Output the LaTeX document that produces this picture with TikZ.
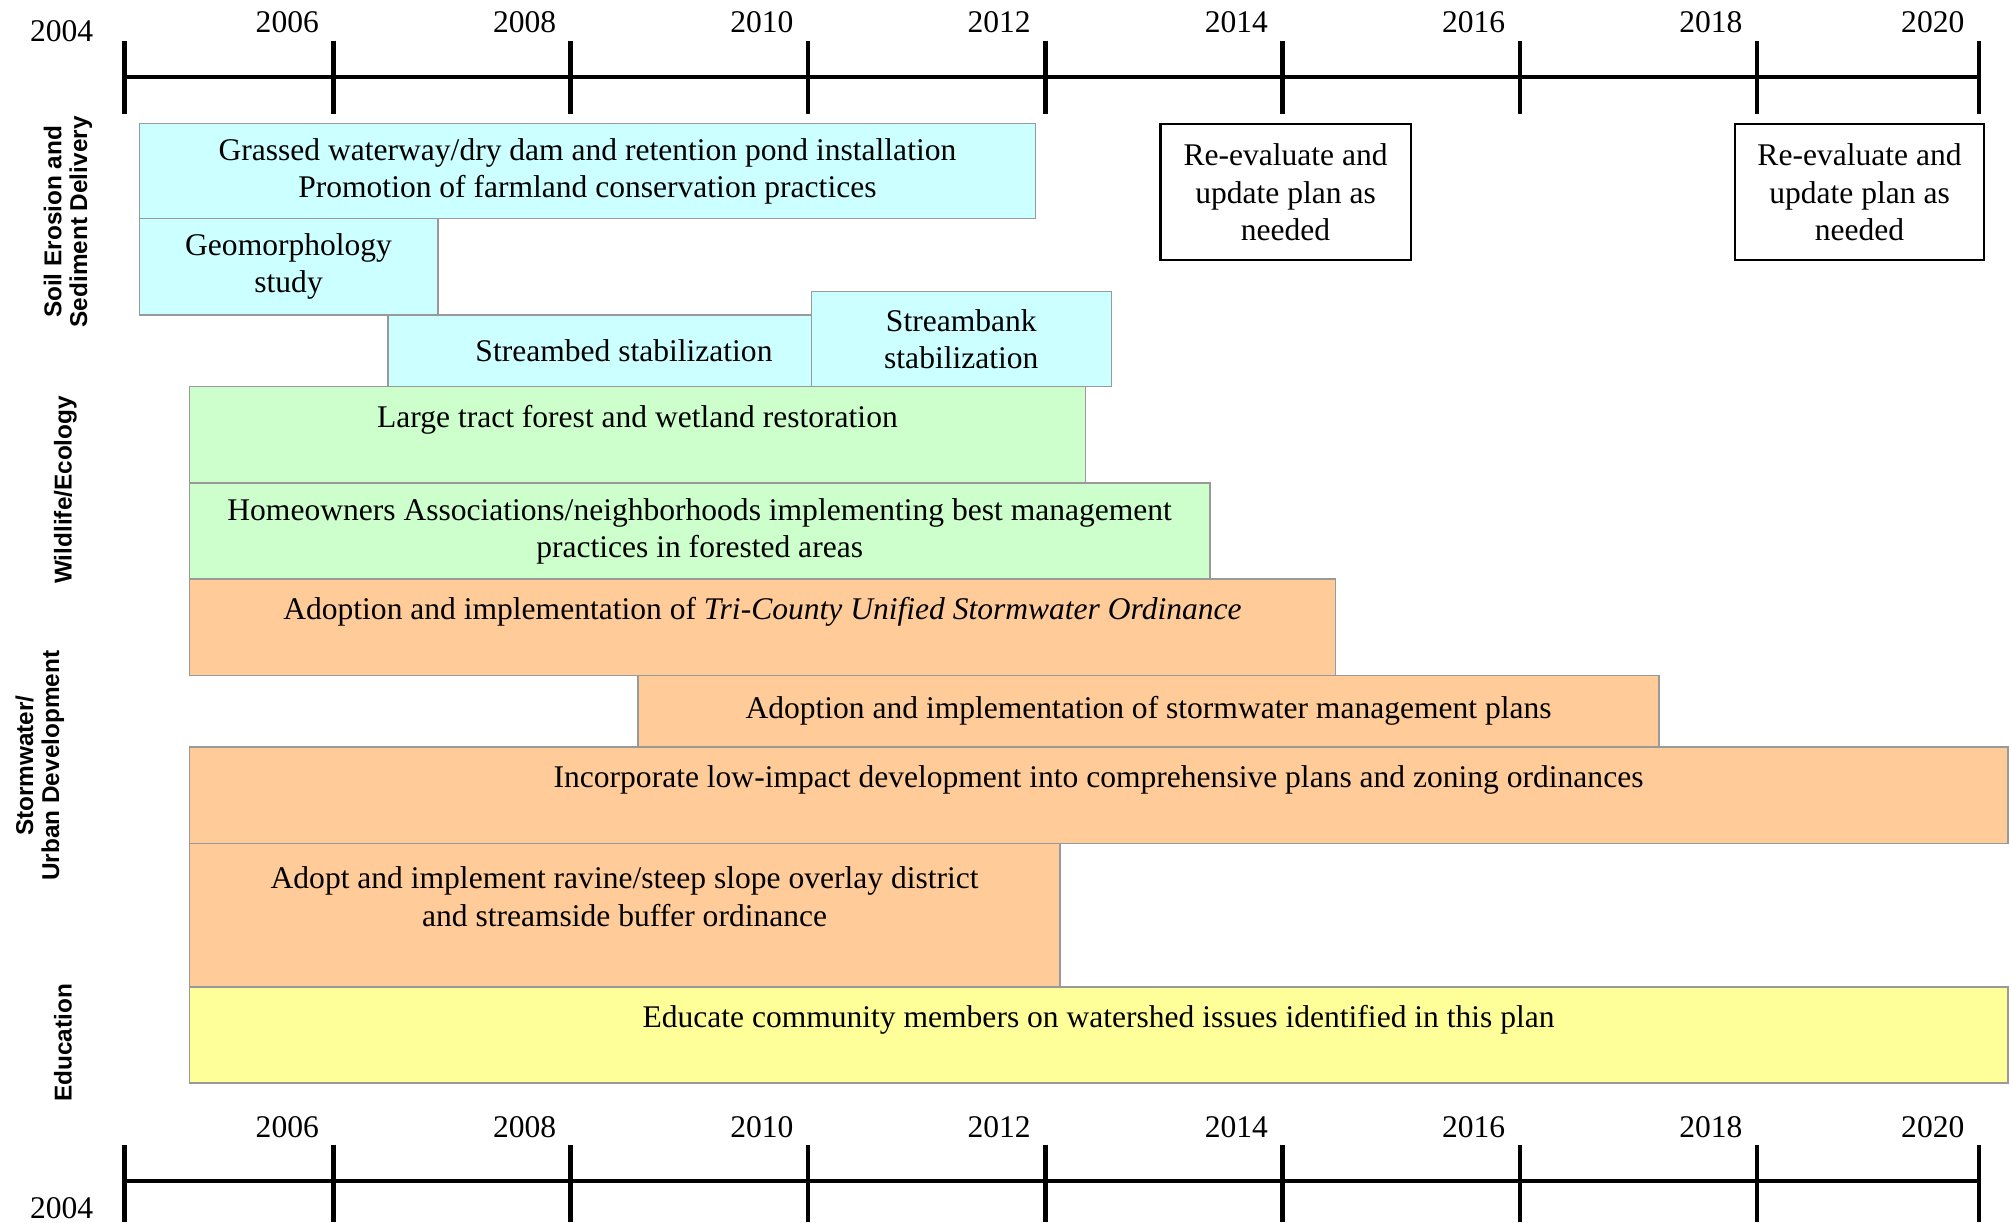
\documentclass[tikz,border=0pt]{standalone}
\usepackage{fontspec}
\setmainfont{Liberation Serif}
\newfontfamily\catfont{Liberation Sans}
\usetikzlibrary{positioning}

\newcommand{\pxu}{0.02cm}
\definecolor{soilcyan}{HTML}{CCFFFF}
\definecolor{wildgreen}{HTML}{CCFFCC}
\definecolor{stormorange}{HTML}{FFCC99}
\definecolor{eduyellow}{HTML}{FFFF99}
\definecolor{barline}{HTML}{999999}

\begin{document}
\begin{tikzpicture}[x=\pxu, y=-\pxu]
    \tikzstyle{bar} = [rectangle, anchor=north west, draw=barline, line width=0.6pt, inner sep=0pt, align=center, font=\fontsize{14}{16.5}\selectfont]
    \tikzstyle{soil} = [bar, fill=soilcyan]
    \tikzstyle{wild} = [bar, fill=wildgreen]
    \tikzstyle{storm} = [bar, fill=stormorange]
    \tikzstyle{edu} = [bar, fill=eduyellow]
    \tikzstyle{review} = [bar, draw=black, line width=1pt, fill=white]
    \tikzstyle{axisline} = [line width=2pt]
    \tikzstyle{yearlabel} = [inner sep=0pt, font=\fontsize{14}{16.5}\selectfont]
    \tikzstyle{catlabel} = [rotate=90, align=center, inner sep=0pt, font=\catfont\bfseries\fontsize{10.8}{11.5}\selectfont]

    \useasboundingbox (0,0) rectangle (1568,953);

    % time axes
    \draw[axisline] (97,60) -- (1543,60);
    \draw[axisline] (97,32) -- (97,89);
    \node[yearlabel] (top2004) at (48,24) {2004};
    \draw[axisline] (97,921) -- (1543,921);
    \draw[axisline] (97,893) -- (97,953);
    \node[yearlabel] (bot2004) at (48,942) {2004};
    \foreach \tx/\yr in {260/2006, 445/2008, 630/2010, 815/2012, 1000/2014, 1185/2016, 1370/2018, 1543/2020} {
        \draw[axisline] (\tx,32) -- (\tx,89);
        \node[yearlabel] (top\yr) at (\tx-36,17) {\yr};
        \draw[axisline] (\tx,893) -- (\tx,953);
        \node[yearlabel] (bot\yr) at (\tx-36,879) {\yr};
    }

    \node[catlabel] (soillab) at (53,173) {Soil Erosion and\\Sediment Delivery};
    \node[catlabel] (wildlab) at (51,382) {Wildlife/Ecology};
    \node[catlabel] (stormlab) at (31,597) {Stormwater/\\Urban Development};
    \node[catlabel] (edulab) at (49,813) {Education};

    \node[soil, minimum width=699*\pxu, minimum height=74*\pxu] (grassed) at (108,96) {Grassed waterway/dry dam and retention pond installation\\Promotion of farmland conservation practices};
    \node[soil, minimum width=233*\pxu, minimum height=75*\pxu] (geomorph) at (108,170) {Geomorphology\\study};
    \node[soil, minimum width=368*\pxu, minimum height=56*\pxu] (streambed) at (302,245) {Streambed stabilization};
    \node[soil, minimum width=234*\pxu, minimum height=74*\pxu] (streambank) at (632,227) {Streambank\\stabilization};
    \node[review, minimum width=195*\pxu, minimum height=106*\pxu] (reeval1) at (904,96) {Re-evaluate and\\update plan as\\needed};
    \node[review, minimum width=194*\pxu, minimum height=106*\pxu] (reeval2) at (1352,96) {Re-evaluate and\\update plan as\\needed};

    \node[wild, minimum width=699*\pxu, minimum height=75*\pxu] (forest) at (147,301) {Large tract forest and wetland restoration\\~};
    \node[wild, minimum width=796*\pxu, minimum height=75*\pxu] (hoa) at (147,376) {Homeowners Associations/neighborhoods implementing best management\\practices in forested areas};

    \node[storm, minimum width=894*\pxu, minimum height=75*\pxu] (tricounty) at (147,451) {Adoption and implementation of \textit{Tri-County Unified Stormwater Ordinance}\\~};
    \node[storm, minimum width=796*\pxu, minimum height=56*\pxu] (swplans) at (497,526) {Adoption and implementation of stormwater management plans};
    \node[storm, minimum width=1418*\pxu, minimum height=75*\pxu] (lid) at (147,582) {Incorporate low-impact development into comprehensive plans and zoning ordinances\\~};
    \node[storm, minimum width=679*\pxu, minimum height=112*\pxu] (ravine) at (147,657) {Adopt and implement ravine/steep slope overlay district\\and streamside buffer ordinance\\~};

    \node[edu, minimum width=1418*\pxu, minimum height=75*\pxu] (educate) at (147,769) {Educate community members on watershed issues identified in this plan\\~};
\end{tikzpicture}
\end{document}
